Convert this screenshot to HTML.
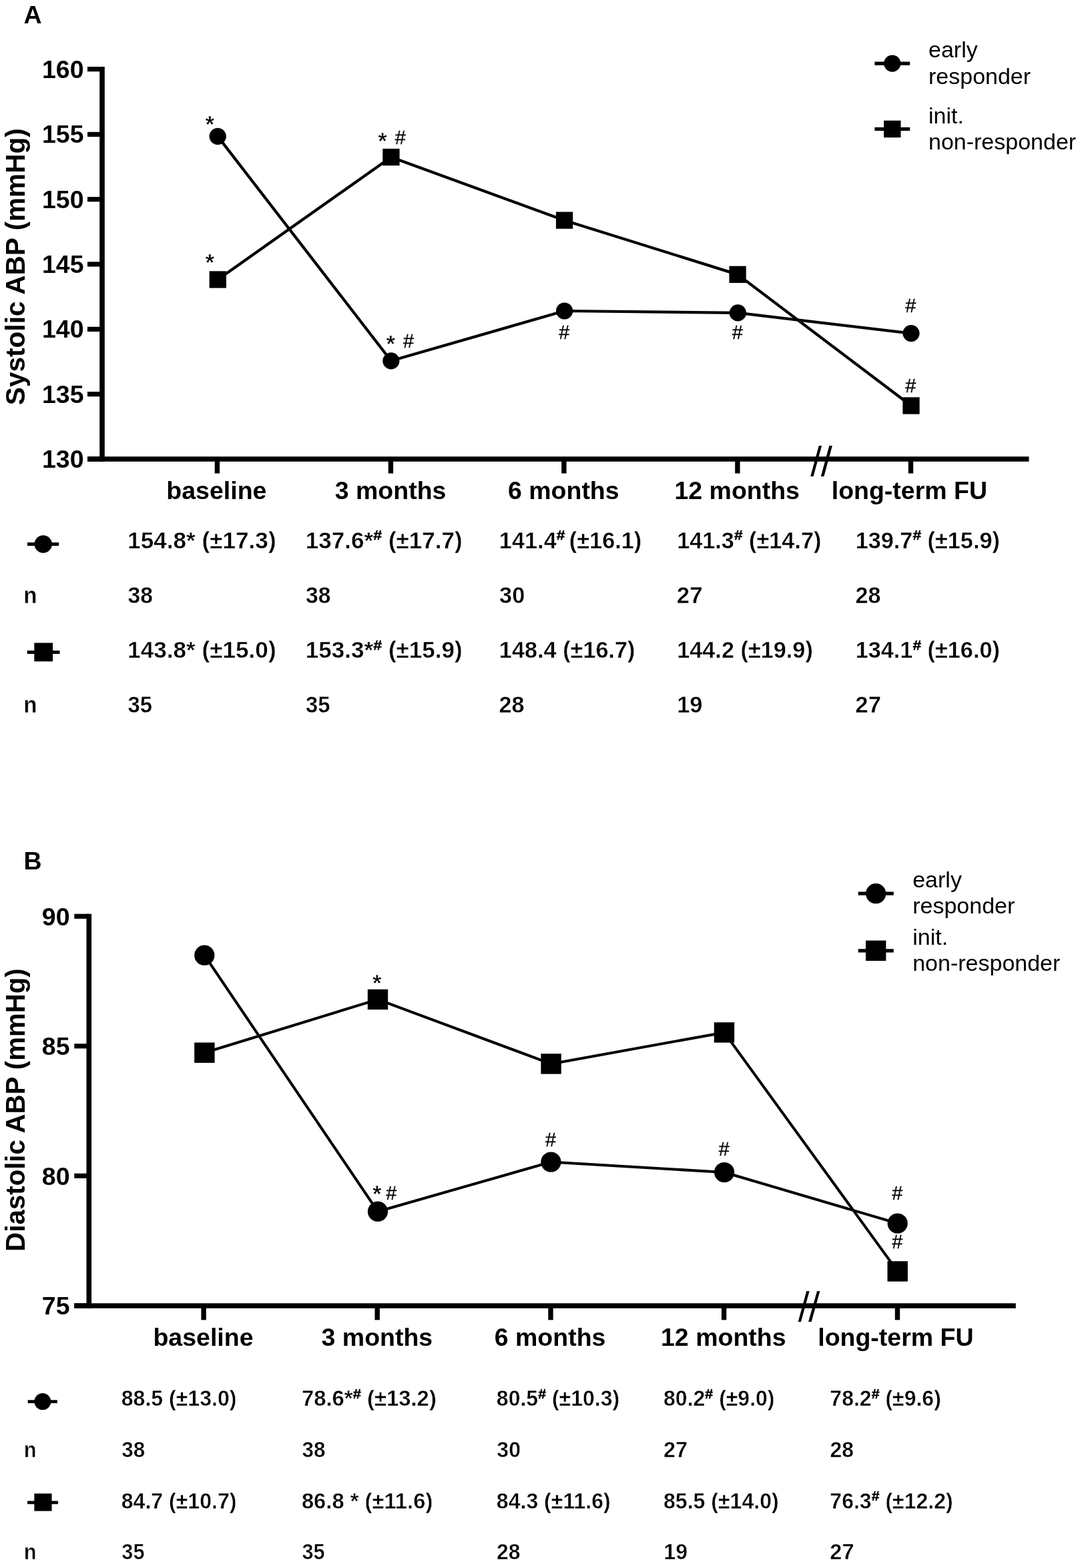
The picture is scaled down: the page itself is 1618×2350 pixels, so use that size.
<!DOCTYPE html>
<html lang="en"><head><meta charset="utf-8"><title>Ambulatory blood pressure over time</title>
<style>
html,body{margin:0;padding:0;background:#fff}
body{width:1618px;height:2350px;overflow:hidden}
svg{display:block}
text{font-family:"Liberation Sans", Arial, sans-serif;fill:#000}
.b37{font-size:37.5px;font-weight:bold}
.star{font-size:35px;font-weight:bold;stroke:#fff;stroke-width:0.6px}
.hash{font-size:28.9px;stroke:#000;stroke-width:0.3px}
.r33{font-size:34.0px}
.tb{font-weight:bold}
</style></head><body>
<svg width="1618" height="2350" viewBox="0 0 1618 2350">
<rect width="1618" height="2350" fill="#fff"/>
<text x="35.4" y="35.1" class="b37">A</text>
<text x="35.4" y="1303.2" class="b37">B</text>
<path d="M153.0,99.9 V691.75" stroke="#000" stroke-width="7.6" fill="none"/>
<path d="M131.0,688.0 H1541.5" stroke="#000" stroke-width="7.7" fill="none"/>
<path d="M131.0,103.6 H153.0" stroke="#000" stroke-width="7.2" fill="none"/>
<text x="125.6" y="116.6" text-anchor="end" class="b37">160</text>
<path d="M131.0,201.4 H153.0" stroke="#000" stroke-width="7.2" fill="none"/>
<text x="125.6" y="214.4" text-anchor="end" class="b37">155</text>
<path d="M131.0,298.7 H153.0" stroke="#000" stroke-width="7.2" fill="none"/>
<text x="125.6" y="311.7" text-anchor="end" class="b37">150</text>
<path d="M131.0,396.0 H153.0" stroke="#000" stroke-width="7.2" fill="none"/>
<text x="125.6" y="409.0" text-anchor="end" class="b37">145</text>
<path d="M131.0,493.4 H153.0" stroke="#000" stroke-width="7.2" fill="none"/>
<text x="125.6" y="506.4" text-anchor="end" class="b37">140</text>
<path d="M131.0,590.7 H153.0" stroke="#000" stroke-width="7.2" fill="none"/>
<text x="125.6" y="603.7" text-anchor="end" class="b37">135</text>
<path d="M131.0,688.0 H153.0" stroke="#000" stroke-width="7.2" fill="none"/>
<text x="125.6" y="701.0" text-anchor="end" class="b37">130</text>
<path d="M325.4,688.0 V709.5" stroke="#000" stroke-width="7.4" fill="none"/>
<path d="M585.4,688.0 V709.5" stroke="#000" stroke-width="7.4" fill="none"/>
<path d="M844.9,688.0 V709.5" stroke="#000" stroke-width="7.4" fill="none"/>
<path d="M1104.9,688.0 V709.5" stroke="#000" stroke-width="7.4" fill="none"/>
<path d="M1364.5,688.0 V709.5" stroke="#000" stroke-width="7.4" fill="none"/>
<polygon points="1226.8,668.0 1231.1,668.0 1218.6,713.9 1214.2,713.9" fill="#000"/>
<polygon points="1242.4,668.0 1246.9,668.0 1234.4,713.9 1229.8,713.9" fill="#000"/>
<polyline points="326.2,204.4 585.9,540.8 845.6,466.0 1105.4,468.9 1365.0,499.6" fill="none" stroke="#000" stroke-width="4.25" stroke-linejoin="round"/>
<polyline points="326.3,419.0 585.95,235.5 845.6,330.2 1105.1,411.4 1365.0,608.0" fill="none" stroke="#000" stroke-width="4.25" stroke-linejoin="round"/>
<circle cx="326.2" cy="204.4" r="12.6" fill="#000"/>
<circle cx="585.9" cy="540.8" r="12.6" fill="#000"/>
<circle cx="845.6" cy="466.0" r="12.6" fill="#000"/>
<circle cx="1105.4" cy="468.9" r="12.6" fill="#000"/>
<circle cx="1365.0" cy="499.6" r="12.6" fill="#000"/>
<rect x="313.65" y="406.35" width="25.3" height="25.3" fill="#000"/>
<rect x="573.30" y="222.85" width="25.3" height="25.3" fill="#000"/>
<rect x="832.95" y="317.55" width="25.3" height="25.3" fill="#000"/>
<rect x="1092.45" y="398.75" width="25.3" height="25.3" fill="#000"/>
<rect x="1352.35" y="595.35" width="25.3" height="25.3" fill="#000"/>
<text x="324.4" y="748.4" text-anchor="middle" class="b37">baseline</text>
<text x="585.1" y="748.4" text-anchor="middle" class="b37">3 months</text>
<text x="844.3" y="748.4" text-anchor="middle" class="b37">6 months</text>
<text x="1104.2" y="748.4" text-anchor="middle" class="b37">12 months</text>
<text x="1362.4" y="748.4" text-anchor="middle" class="b37">long-term FU</text>
<text transform="translate(36.9,399.7) rotate(-90)" text-anchor="middle" font-size="40.6" font-weight="bold">Systolic ABP (mmHg)</text>
<text x="314.3" y="197.5" text-anchor="middle" class="star">*</text>
<text x="314.3" y="405.2" text-anchor="middle" class="star">*</text>
<text x="573.05" y="222.5" text-anchor="middle" class="star">*</text>
<text x="599.7" y="216.0" text-anchor="middle" class="hash">#</text>
<text x="585.4" y="527.3" text-anchor="middle" class="star">*</text>
<text x="612.05" y="520.9" text-anchor="middle" class="hash">#</text>
<text x="845.2" y="508.2" text-anchor="middle" class="hash">#</text>
<text x="1104.7" y="508.1" text-anchor="middle" class="hash">#</text>
<text x="1364.2" y="468.3" text-anchor="middle" class="hash">#</text>
<text x="1364.2" y="588.2" text-anchor="middle" class="hash">#</text>
<path d="M1310.4,95.1 H1363.2 M1310.4,193.4 H1363.2" stroke="#000" stroke-width="5.2" fill="none"/>
<circle cx="1336.8" cy="95.1" r="12.6" fill="#000"/>
<rect x="1324.1" y="180.70000000000002" width="25.4" height="25.4" fill="#000"/>
<text x="1391.0" y="86.2" class="r33">early</text>
<text x="1391.0" y="125.8" class="r33">responder</text>
<text x="1391.0" y="185.2" class="r33">init.</text>
<text x="1391.0" y="223.6" class="r33">non-responder</text>
<text transform="translate(191.11,821.9) scale(0.9795,1)" class="tb" font-size="35.9" stroke="#fff" stroke-width="0.45">154.8* (±17.3)</text>
<text transform="translate(191.43,904.0) scale(0.9392,1)" class="tb" font-size="35.9" stroke="#fff" stroke-width="0.45">38</text>
<text transform="translate(191.11,986.2) scale(0.9795,1)" class="tb" font-size="35.9" stroke="#fff" stroke-width="0.45">143.8* (±15.0)</text>
<text transform="translate(191.44,1068.4) scale(0.9159,1)" class="tb" font-size="35.9" stroke="#fff" stroke-width="0.45">35</text>
<text transform="translate(457.71,821.9) scale(0.9773,1)" class="tb" font-size="35.9" stroke="#fff" stroke-width="0.45">137.6*</text>
<text transform="translate(559.16,809.3) scale(0.9773,0.87)" class="tb" font-size="23.9" stroke="#000" stroke-width="0.5">#</text>
<text transform="translate(581.92,821.9) scale(0.9773,1)" class="tb" font-size="35.9" stroke="#fff" stroke-width="0.45">(±17.7)</text>
<text transform="translate(458.03,904.0) scale(0.9392,1)" class="tb" font-size="35.9" stroke="#fff" stroke-width="0.45">38</text>
<text transform="translate(457.71,986.2) scale(0.9773,1)" class="tb" font-size="35.9" stroke="#fff" stroke-width="0.45">153.3*</text>
<text transform="translate(559.16,973.6) scale(0.9773,0.87)" class="tb" font-size="23.9" stroke="#000" stroke-width="0.5">#</text>
<text transform="translate(581.92,986.2) scale(0.9773,1)" class="tb" font-size="35.9" stroke="#fff" stroke-width="0.45">(±15.9)</text>
<text transform="translate(458.04,1068.4) scale(0.9159,1)" class="tb" font-size="35.9" stroke="#fff" stroke-width="0.45">35</text>
<text transform="translate(747.86,821.9) scale(0.9558,1)" class="tb" font-size="35.9" stroke="#fff" stroke-width="0.45">141.4</text>
<text transform="translate(833.72,809.3) scale(0.9558,0.87)" class="tb" font-size="23.9" stroke="#000" stroke-width="0.5">#</text>
<text transform="translate(852.81,821.9) scale(0.9558,1)" class="tb" font-size="35.9" stroke="#fff" stroke-width="0.45">(±16.1)</text>
<text transform="translate(748.11,904.0) scale(0.9577,1)" class="tb" font-size="35.9" stroke="#fff" stroke-width="0.45">30</text>
<text transform="translate(747.86,986.2) scale(0.9551,1)" class="tb" font-size="35.9" stroke="#fff" stroke-width="0.45">148.4 (±16.7)</text>
<text transform="translate(747.58,1068.4) scale(0.9532,1)" class="tb" font-size="35.9" stroke="#fff" stroke-width="0.45">28</text>
<text transform="translate(1014.16,821.9) scale(0.9542,1)" class="tb" font-size="35.9" stroke="#fff" stroke-width="0.45">141.3</text>
<text transform="translate(1099.89,809.3) scale(0.9542,0.87)" class="tb" font-size="23.9" stroke="#000" stroke-width="0.5">#</text>
<text transform="translate(1122.12,821.9) scale(0.9542,1)" class="tb" font-size="35.9" stroke="#fff" stroke-width="0.45">(±14.7)</text>
<text transform="translate(1013.86,904.0) scale(0.9688,1)" class="tb" font-size="35.9" stroke="#fff" stroke-width="0.45">27</text>
<text transform="translate(1014.16,986.2) scale(0.9551,1)" class="tb" font-size="35.9" stroke="#fff" stroke-width="0.45">144.2 (±19.9)</text>
<text transform="translate(1014.15,1068.4) scale(0.9600,1)" class="tb" font-size="35.9" stroke="#fff" stroke-width="0.45">19</text>
<text transform="translate(1281.66,821.9) scale(0.9542,1)" class="tb" font-size="35.9" stroke="#fff" stroke-width="0.45">139.7</text>
<text transform="translate(1367.39,809.3) scale(0.9542,0.87)" class="tb" font-size="23.9" stroke="#000" stroke-width="0.5">#</text>
<text transform="translate(1389.62,821.9) scale(0.9542,1)" class="tb" font-size="35.9" stroke="#fff" stroke-width="0.45">(±15.9)</text>
<text transform="translate(1281.38,904.0) scale(0.9532,1)" class="tb" font-size="35.9" stroke="#fff" stroke-width="0.45">28</text>
<text transform="translate(1281.66,986.2) scale(0.9542,1)" class="tb" font-size="35.9" stroke="#fff" stroke-width="0.45">134.1</text>
<text transform="translate(1367.39,973.6) scale(0.9542,0.87)" class="tb" font-size="23.9" stroke="#000" stroke-width="0.5">#</text>
<text transform="translate(1389.62,986.2) scale(0.9542,1)" class="tb" font-size="35.9" stroke="#fff" stroke-width="0.45">(±16.0)</text>
<text transform="translate(1281.36,1068.4) scale(0.9688,1)" class="tb" font-size="35.9" stroke="#fff" stroke-width="0.45">27</text>
<text transform="translate(35.30,904.0) scale(0.9601,1)" class="tb" font-size="34.5" stroke="#fff" stroke-width="0.45">n</text>
<text transform="translate(35.30,1068.4) scale(0.9601,1)" class="tb" font-size="34.5" stroke="#fff" stroke-width="0.45">n</text>
<path d="M41.0,815.5 H88.2 M40.7,977.5 H89.5" stroke="#000" stroke-width="5.0" fill="none"/>
<circle cx="64.75" cy="815.5" r="13.2" fill="#000"/>
<rect x="51.30" y="963.50" width="27.8" height="27.8" fill="#000"/>
<path d="M133.3,1369.7 V1960.75" stroke="#000" stroke-width="7.6" fill="none"/>
<path d="M111.3,1957.0 H1521.8" stroke="#000" stroke-width="7.7" fill="none"/>
<path d="M111.3,1373.3 H133.3" stroke="#000" stroke-width="7.2" fill="none"/>
<text x="104.5" y="1386.7" text-anchor="end" class="b37">90</text>
<path d="M111.3,1567.8 H133.3" stroke="#000" stroke-width="7.2" fill="none"/>
<text x="104.5" y="1581.2" text-anchor="end" class="b37">85</text>
<path d="M111.3,1762.3 H133.3" stroke="#000" stroke-width="7.2" fill="none"/>
<text x="104.5" y="1775.7" text-anchor="end" class="b37">80</text>
<path d="M111.3,1956.8 H133.3" stroke="#000" stroke-width="7.2" fill="none"/>
<text x="104.5" y="1970.2" text-anchor="end" class="b37">75</text>
<path d="M305.1,1957.0 V1978.3" stroke="#000" stroke-width="7.4" fill="none"/>
<path d="M565.2,1957.0 V1978.3" stroke="#000" stroke-width="7.4" fill="none"/>
<path d="M825.0,1957.0 V1978.3" stroke="#000" stroke-width="7.4" fill="none"/>
<path d="M1084.6,1957.0 V1978.3" stroke="#000" stroke-width="7.4" fill="none"/>
<path d="M1344.5,1957.0 V1978.3" stroke="#000" stroke-width="7.4" fill="none"/>
<polygon points="1208.3,1935.0 1212.6,1935.0 1200,1981.1 1195.7,1981.1" fill="#000"/>
<polygon points="1224.1,1935.0 1228.4,1935.0 1215.6,1981.1 1211.1,1981.1" fill="#000"/>
<polyline points="306.3,1431.7 566.0,1815.7 825.4,1741.5 1085.1,1757.0 1344.7,1833.5" fill="none" stroke="#000" stroke-width="4.05" stroke-linejoin="round"/>
<polyline points="306.4,1577.7 566.0,1497.9 825.6,1594.4 1085.0,1547.4 1344.7,1905.4" fill="none" stroke="#000" stroke-width="4.05" stroke-linejoin="round"/>
<circle cx="306.3" cy="1431.7" r="15.1" fill="#000"/>
<circle cx="566.0" cy="1815.7" r="15.1" fill="#000"/>
<circle cx="825.4" cy="1741.5" r="15.1" fill="#000"/>
<circle cx="1085.1" cy="1757.0" r="15.1" fill="#000"/>
<circle cx="1344.7" cy="1833.5" r="15.1" fill="#000"/>
<rect x="291.20" y="1562.50" width="30.4" height="30.4" fill="#000"/>
<rect x="550.80" y="1482.70" width="30.4" height="30.4" fill="#000"/>
<rect x="810.40" y="1579.20" width="30.4" height="30.4" fill="#000"/>
<rect x="1069.80" y="1532.20" width="30.4" height="30.4" fill="#000"/>
<rect x="1329.50" y="1890.20" width="30.4" height="30.4" fill="#000"/>
<text x="304.5" y="2017.2" text-anchor="middle" class="b37">baseline</text>
<text x="564.9" y="2017.2" text-anchor="middle" class="b37">3 months</text>
<text x="824.1" y="2017.2" text-anchor="middle" class="b37">6 months</text>
<text x="1083.8" y="2017.2" text-anchor="middle" class="b37">12 months</text>
<text x="1341.9" y="2017.2" text-anchor="middle" class="b37">long-term FU</text>
<text transform="translate(36.9,1663.5) rotate(-90)" text-anchor="middle" font-size="40.2" font-weight="bold">Diastolic ABP (mmHg)</text>
<text x="564.7" y="1485.2" text-anchor="middle" class="star">*</text>
<text x="564.7" y="1801.2" text-anchor="middle" class="star">*</text>
<text x="586.4" y="1797.9" text-anchor="middle" class="hash">#</text>
<text x="825.1" y="1718.2" text-anchor="middle" class="hash">#</text>
<text x="1084.7" y="1731.8" text-anchor="middle" class="hash">#</text>
<text x="1344.4" y="1798.3" text-anchor="middle" class="hash">#</text>
<text x="1344.4" y="1871.2" text-anchor="middle" class="hash">#</text>
<path d="M1285.7,1339.2 H1338.8 M1285.7,1424.8 H1338.8" stroke="#000" stroke-width="5.2" fill="none"/>
<circle cx="1312.2" cy="1339.2" r="15.1" fill="#000"/>
<rect x="1297.0" y="1409.6" width="30.4" height="30.4" fill="#000"/>
<text x="1367.2" y="1329.5" class="r33">early</text>
<text x="1367.2" y="1368.8" class="r33">responder</text>
<text x="1367.2" y="1416.0" class="r33">init.</text>
<text x="1367.2" y="1455.0" class="r33">non-responder</text>
<text transform="translate(181.78,2107.4) scale(0.9431,1)" class="tb" font-size="34.0" stroke="#fff" stroke-width="0.5">88.5 (±13.0)</text>
<text transform="translate(182.33,2183.9) scale(0.9259,1)" class="tb" font-size="34.0" stroke="#fff" stroke-width="0.5">38</text>
<text transform="translate(181.78,2260.5) scale(0.9431,1)" class="tb" font-size="34.0" stroke="#fff" stroke-width="0.5">84.7 (±10.7)</text>
<text transform="translate(182.35,2336.7) scale(0.9029,1)" class="tb" font-size="34.0" stroke="#fff" stroke-width="0.5">35</text>
<text transform="translate(451.90,2107.4) scale(0.9667,1)" class="tb" font-size="34.0" stroke="#fff" stroke-width="0.5">78.6*</text>
<text transform="translate(528.66,2095.6) scale(0.9667,0.87)" class="tb" font-size="22.7" stroke="#000" stroke-width="0.5">#</text>
<text transform="translate(549.98,2107.4) scale(0.9667,1)" class="tb" font-size="34.0" stroke="#fff" stroke-width="0.5">(±13.2)</text>
<text transform="translate(452.48,2183.9) scale(0.9259,1)" class="tb" font-size="34.0" stroke="#fff" stroke-width="0.5">38</text>
<text transform="translate(451.91,2260.5) scale(0.9633,1)" class="tb" font-size="34.0" stroke="#fff" stroke-width="0.5">86.8 * (±11.6)</text>
<text transform="translate(452.50,2336.7) scale(0.9029,1)" class="tb" font-size="34.0" stroke="#fff" stroke-width="0.5">35</text>
<text transform="translate(743.83,2107.4) scale(0.9421,1)" class="tb" font-size="34.0" stroke="#fff" stroke-width="0.5">80.5</text>
<text transform="translate(806.17,2095.6) scale(0.9421,0.87)" class="tb" font-size="22.7" stroke="#000" stroke-width="0.5">#</text>
<text transform="translate(826.95,2107.4) scale(0.9421,1)" class="tb" font-size="34.0" stroke="#fff" stroke-width="0.5">(±10.3)</text>
<text transform="translate(744.37,2183.9) scale(0.9442,1)" class="tb" font-size="34.0" stroke="#fff" stroke-width="0.5">30</text>
<text transform="translate(743.83,2260.5) scale(0.9431,1)" class="tb" font-size="34.0" stroke="#fff" stroke-width="0.5">84.3 (±11.6)</text>
<text transform="translate(743.88,2336.7) scale(0.9397,1)" class="tb" font-size="34.0" stroke="#fff" stroke-width="0.5">28</text>
<text transform="translate(994.03,2107.4) scale(0.9419,1)" class="tb" font-size="34.0" stroke="#fff" stroke-width="0.5">80.2</text>
<text transform="translate(1056.36,2095.6) scale(0.9419,0.87)" class="tb" font-size="22.7" stroke="#000" stroke-width="0.5">#</text>
<text transform="translate(1077.14,2107.4) scale(0.9419,1)" class="tb" font-size="34.0" stroke="#fff" stroke-width="0.5">(±9.0)</text>
<text transform="translate(994.06,2183.9) scale(0.9551,1)" class="tb" font-size="34.0" stroke="#fff" stroke-width="0.5">27</text>
<text transform="translate(994.03,2260.5) scale(0.9431,1)" class="tb" font-size="34.0" stroke="#fff" stroke-width="0.5">85.5 (±14.0)</text>
<text transform="translate(994.33,2336.7) scale(0.9464,1)" class="tb" font-size="34.0" stroke="#fff" stroke-width="0.5">19</text>
<text transform="translate(1243.33,2107.4) scale(0.9419,1)" class="tb" font-size="34.0" stroke="#fff" stroke-width="0.5">78.2</text>
<text transform="translate(1305.66,2095.6) scale(0.9419,0.87)" class="tb" font-size="22.7" stroke="#000" stroke-width="0.5">#</text>
<text transform="translate(1326.44,2107.4) scale(0.9419,1)" class="tb" font-size="34.0" stroke="#fff" stroke-width="0.5">(±9.6)</text>
<text transform="translate(1243.38,2183.9) scale(0.9397,1)" class="tb" font-size="34.0" stroke="#fff" stroke-width="0.5">28</text>
<text transform="translate(1243.33,2260.5) scale(0.9421,1)" class="tb" font-size="34.0" stroke="#fff" stroke-width="0.5">76.3</text>
<text transform="translate(1305.67,2248.7) scale(0.9421,0.87)" class="tb" font-size="22.7" stroke="#000" stroke-width="0.5">#</text>
<text transform="translate(1326.45,2260.5) scale(0.9421,1)" class="tb" font-size="34.0" stroke="#fff" stroke-width="0.5">(±12.2)</text>
<text transform="translate(1243.36,2336.7) scale(0.9551,1)" class="tb" font-size="34.0" stroke="#fff" stroke-width="0.5">27</text>
<text transform="translate(35.69,2183.9) scale(0.9465,1)" class="tb" font-size="32.6" stroke="#fff" stroke-width="0.5">n</text>
<text transform="translate(35.69,2336.7) scale(0.9465,1)" class="tb" font-size="32.6" stroke="#fff" stroke-width="0.5">n</text>
<path d="M41.7,2100.6 H85.8 M41.1,2251.8 H87.0" stroke="#000" stroke-width="4.8" fill="none"/>
<circle cx="63.85" cy="2100.55" r="12.5" fill="#000"/>
<rect x="51.35" y="2238.40" width="26.2" height="26.2" fill="#000"/>
</svg></body></html>
